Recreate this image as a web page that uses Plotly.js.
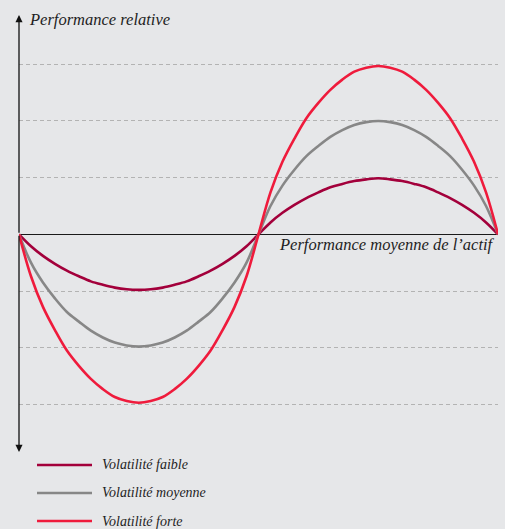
<!DOCTYPE html>
<html>
<head>
<meta charset="utf-8">
<script src="https://cdn.plot.ly/plotly-3.0.1.min.js"></script>
<style>html,body{margin:0;padding:0;background:#e6e7e9;}#chart{width:505px;height:529px;}</style>
</head>
<body>
<div id="chart"></div>
<script>
// Performance moyenne de l'actif (x) — unitless positions
var perfMoyenne = [-1, -0.95, -0.9, -0.85, -0.8, -0.75, -0.7, -0.65, -0.6, -0.55, -0.5, -0.45, -0.4, -0.35, -0.3, -0.25, -0.2, -0.15, -0.1, -0.05, 0,
                   0.05, 0.1, 0.15, 0.2, 0.25, 0.3, 0.35, 0.4, 0.45, 0.5, 0.55, 0.6, 0.65, 0.7, 0.75, 0.8, 0.85, 0.9, 0.95, 1];

var volFaible = [0, -0.21, -0.38, -0.52, -0.64, -0.74, -0.83, -0.89, -0.94, -0.97, -0.98, -0.97, -0.94, -0.89, -0.83, -0.74, -0.64, -0.52, -0.38, -0.21, 0,
                 0.21, 0.38, 0.52, 0.64, 0.74, 0.83, 0.89, 0.94, 0.97, 0.99, 0.97, 0.94, 0.89, 0.83, 0.74, 0.64, 0.52, 0.38, 0.21, 0];

var volMoyenne = [0, -0.50, -0.85, -1.13, -1.37, -1.54, -1.70, -1.82, -1.91, -1.96, -1.98, -1.96, -1.91, -1.82, -1.70, -1.54, -1.37, -1.13, -0.85, -0.50, 0,
                  0.50, 0.86, 1.14, 1.38, 1.56, 1.72, 1.84, 1.93, 1.98, 2.0, 1.98, 1.93, 1.84, 1.72, 1.56, 1.38, 1.14, 0.86, 0.50, 0];

var volForte = [0, -0.74, -1.28, -1.69, -2.05, -2.32, -2.55, -2.73, -2.87, -2.94, -2.97, -2.94, -2.87, -2.73, -2.55, -2.32, -2.05, -1.69, -1.28, -0.74, 0,
                0.74, 1.28, 1.69, 2.05, 2.32, 2.55, 2.73, 2.87, 2.94, 2.97, 2.94, 2.87, 2.73, 2.55, 2.32, 2.05, 1.69, 1.28, 0.74, 0];

var seriesNames = ['Volatilité faible', 'Volatilité moyenne', 'Volatilité forte'];
var seriesColors = ['#a3003b', '#878787', '#ef1b3c'];
var gridVals = [-3, -2, -1, 1, 2, 3];
var yTitle = 'Performance relative';
var xTitle = 'Performance moyenne de l\u2019actif';

var seriesData = [volFaible, volMoyenne, volForte];
var traces = seriesData.map(function (ys, i) {
  return {
    type: 'scatter', mode: 'lines', name: seriesNames[i],
    x: perfMoyenne, y: ys,
    line: {color: seriesColors[i], width: 2.6, shape: 'spline', smoothing: 1},
    showlegend: false, hoverinfo: 'skip'
  };
});
var serif = "'Liberation Serif', 'DejaVu Serif', serif";

var shapes = [];
var annotations = [];
// manual legend
var legY = [-0.0297, -0.0938, -0.1579];
seriesNames.forEach(function (n, i) {
  shapes.push({type: 'line', xref: 'paper', yref: 'paper', x0: 0.0376, x1: 0.1524, y0: legY[i], y1: legY[i],
               line: {color: seriesColors[i], width: 2.6}});
  annotations.push({xref: 'paper', yref: 'paper', x: 0.169, y: legY[i], xanchor: 'left', yanchor: 'middle',
                    text: n, showarrow: false, font: {family: serif, size: 14, style: 'italic', color: '#1e1e1e'}});
});
// vertical axis arrows
annotations.push({x: -1, y: 3.87, ax: -1, ay: 0, xref: 'x', yref: 'y', axref: 'x', ayref: 'y', text: '',
                  showarrow: true, arrowhead: 2, arrowsize: 1.1, arrowwidth: 1.3, arrowcolor: '#111', standoff: 0});
annotations.push({x: -1, y: -3.84, ax: -1, ay: 0, xref: 'x', yref: 'y', axref: 'x', ayref: 'y', text: '',
                  showarrow: true, arrowhead: 2, arrowsize: 1.1, arrowwidth: 1.3, arrowcolor: '#111', standoff: 0});
// axis titles
annotations.push({xref: 'paper', yref: 'paper', x: 0.017, y: 0.9886, xanchor: 'left', yanchor: 'middle',
                  text: yTitle, showarrow: false, font: {family: serif, size: 16.5, style: 'italic', color: '#1e1e1e'}});
annotations.push({xref: 'paper', yref: 'paper', x: 0.998, y: 0.4737, xanchor: 'right', yanchor: 'middle',
                  text: xTitle, showarrow: false, font: {family: serif, size: 16.5, style: 'italic', color: '#1e1e1e'}});

var layout = {
  width: 505, height: 529,
  margin: {l: 19, r: 7, t: 15, b: 77, pad: 0},
  paper_bgcolor: '#e6e7e9', plot_bgcolor: '#e6e7e9',
  showlegend: false,
  font: {family: serif},
  xaxis: {range: [-1, 1], showgrid: false, zeroline: false, showticklabels: false, ticks: '', showline: false, fixedrange: true},
  yaxis: {range: [-3.84, 3.87], tickvals: gridVals, showticklabels: false, ticks: '', showline: false,
          showgrid: true, gridcolor: '#b3b3b3', gridwidth: 1, griddash: '4px,3px',
          zeroline: true, zerolinecolor: '#1a1a1a', zerolinewidth: 1.5, fixedrange: true},
  shapes: shapes,
  annotations: annotations
};

Plotly.newPlot('chart', traces, layout, {displayModeBar: false, staticPlot: true});
</script>
</body>
</html>
